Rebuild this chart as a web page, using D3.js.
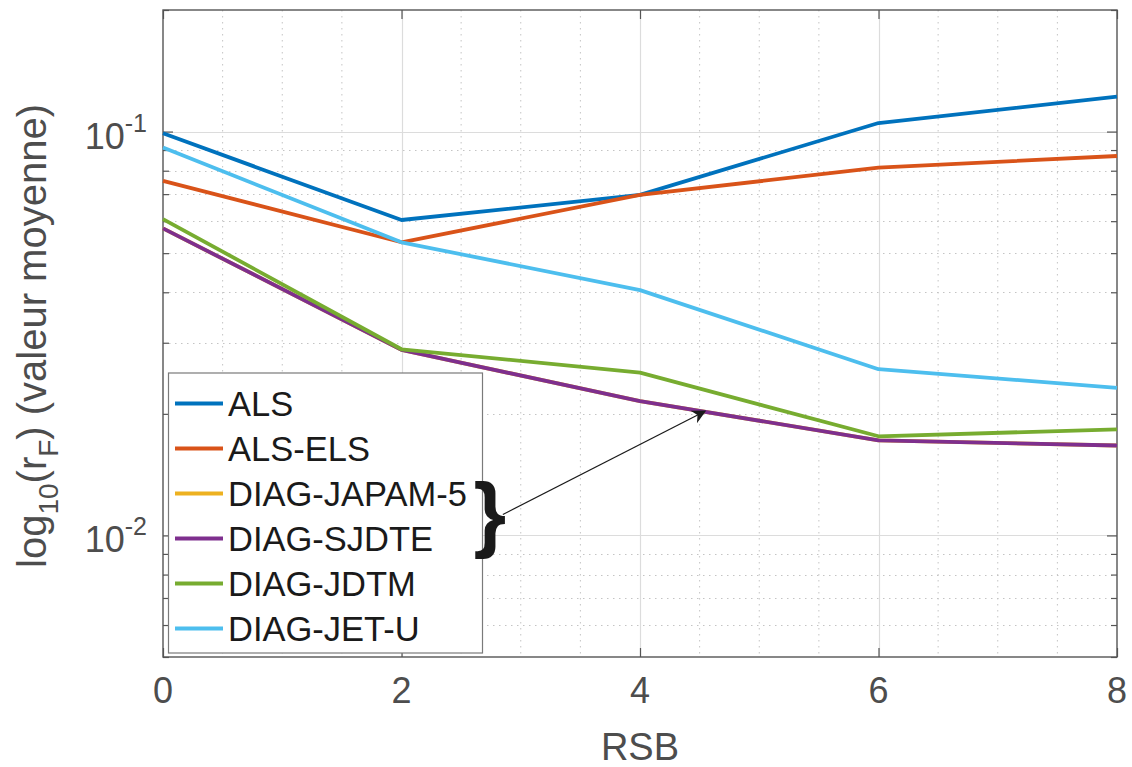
<!DOCTYPE html>
<html>
<head>
<meta charset="utf-8">
<script src="https://cdn.jsdelivr.net/npm/d3@7"></script>
<style>
  html, body { margin: 0; padding: 0; background: #fff; }
  svg { display: block; font-family: "Liberation Sans", Arial, Helvetica, sans-serif; }
</style>
</head>
<body>
<svg id="chart" width="1132" height="767"></svg>
<script>
// ---- data ----
const rsb = [0, 2, 4, 6, 8];
const seriesNames = ["ALS", "ALS-ELS", "DIAG-JAPAM-5", "DIAG-SJDTE", "DIAG-JDTM", "DIAG-JET-U"];
const seriesColors = ["#0072BD", "#D95319", "#EDB120", "#7E2F8E", "#77AC30", "#4DBEEE"];
const als      = [0.0990, 0.0604, 0.0697, 0.1050, 0.1220];
const alsEls   = [0.0755, 0.0532, 0.0697, 0.0814, 0.0870];
const japam5   = [0.0576, 0.0288, 0.0215, 0.0172, 0.0167];
const sjdte    = [0.0576, 0.0288, 0.0215, 0.0172, 0.0167];
const jdtm     = [0.0607, 0.0289, 0.0253, 0.0176, 0.0183];
const jetU     = [0.0913, 0.0532, 0.0405, 0.0258, 0.0232];
const seriesValues = [als, alsEls, japam5, sjdte, jdtm, jetU];
const xTicks = [0, 2, 4, 6, 8];
const yMajorTicks = [0.01, 0.1];
const yMajorExp = ["-2", "-1"];
const xLabel = "RSB";
// annotation (data coordinates): arrow from brace to the grouped curves
const arrowFrom = [2.85, 0.01127];
const arrowTo = [4.545, 0.0203];
const braceAt = [2.74, 0.0112];

// ---- layout ----
const svg = d3.select("#chart");
const L = 163, R = 1117, T = 10, B = 657;
const x = d3.scaleLinear().domain([0, 8]).range([L, R]);
const y = d3.scaleLog().domain([0.005, 0.2]).range([B, T]);
const axisCol = "#555555", textCol = "#4d4d4d";

// minor grid
const xMinor = d3.range(0.5, 8, 0.5).filter(v => v % 2 !== 0);
const yMinor = [];
[0.001, 0.01, 0.1].forEach(d => { for (let k = 2; k <= 9; k++) { const v = d * k; if (v > 0.005 && v < 0.2) yMinor.push(v); } });
yMinor.push(0.005, 0.2);
const g = svg.append("g");
g.selectAll(".xminor").data(xMinor).join("line")
  .attr("x1", d => x(d)).attr("x2", d => x(d)).attr("y1", T).attr("y2", B)
  .attr("stroke", "#c4c4c4").attr("stroke-width", 1).attr("stroke-dasharray", "1.5,4.5");
g.selectAll(".yminor").data(yMinor.filter(v => v > 0.005 && v < 0.2)).join("line")
  .attr("x1", L).attr("x2", R).attr("y1", d => Math.round(y(d)) + 0.5).attr("y2", d => Math.round(y(d)) + 0.5)
  .attr("stroke", "#c4c4c4").attr("stroke-width", 1).attr("stroke-dasharray", "1.5,4.5");
// major grid
g.selectAll(".xmaj").data(xTicks.slice(1, -1)).join("line")
  .attr("x1", d => Math.round(x(d)) + 0.5).attr("x2", d => Math.round(x(d)) + 0.5).attr("y1", T).attr("y2", B)
  .attr("stroke", "#dcdcdc").attr("stroke-width", 1.2);
g.selectAll(".ymaj").data(yMajorTicks).join("line")
  .attr("x1", L).attr("x2", R).attr("y1", d => Math.round(y(d)) + 0.5).attr("y2", d => Math.round(y(d)) + 0.5)
  .attr("stroke", "#dcdcdc").attr("stroke-width", 1.2);

// axes via d3 axis (ticks inside)
const yAxisL = d3.axisRight(y).tickValues(yMajorTicks).tickSize(10).tickFormat("");
const yAxisLm = d3.axisRight(y).tickValues(yMinor).tickSize(6).tickFormat("");
const yAxisR = d3.axisLeft(y).tickValues(yMajorTicks).tickSize(10).tickFormat("");
const yAxisRm = d3.axisLeft(y).tickValues(yMinor).tickSize(6).tickFormat("");
const xAxisB = d3.axisTop(x).tickValues(xTicks).tickSize(9).tickFormat("");
const xAxisT = d3.axisBottom(x).tickValues(xTicks).tickSize(9).tickFormat("");
function styleAxis(sel) { sel.select(".domain").remove(); sel.selectAll("line").attr("stroke", axisCol).attr("stroke-width", 1.2); }
svg.append("g").attr("transform", `translate(${L},0)`).call(yAxisL).call(styleAxis);
svg.append("g").attr("transform", `translate(${L},0)`).call(yAxisLm).call(styleAxis);
svg.append("g").attr("transform", `translate(${R},0)`).call(yAxisR).call(styleAxis);
svg.append("g").attr("transform", `translate(${R},0)`).call(yAxisRm).call(styleAxis);
svg.append("g").attr("transform", `translate(0,${B})`).call(xAxisB).call(styleAxis);
svg.append("g").attr("transform", `translate(0,${T})`).call(xAxisT).call(styleAxis);
// box
svg.append("rect").attr("x", L).attr("y", T).attr("width", R - L).attr("height", B - T)
  .attr("fill", "none").attr("stroke", axisCol).attr("stroke-width", 1.4);

// tick labels
svg.selectAll(".xtl").data(xTicks).join("text")
  .attr("x", d => x(d)).attr("y", 703).attr("text-anchor", "middle")
  .attr("font-size", 36).attr("fill", textCol).text(d => d);
const ytl = svg.selectAll(".ytl").data(yMajorTicks).join("text")
  .attr("x", 147).attr("y", d => y(d) + 17).attr("text-anchor", "end")
  .attr("font-size", 36).attr("fill", textCol);
ytl.append("tspan").text("10");
ytl.append("tspan").attr("dy", -17).attr("font-size", 25).text((d, i) => yMajorExp[i]);

// axis labels
svg.append("text").attr("x", x(4)).attr("y", 760).attr("text-anchor", "middle")
  .attr("font-size", 38).attr("fill", textCol).text(xLabel);
const yl = svg.append("text").attr("transform", `translate(46,336) rotate(-90)`)
  .attr("text-anchor", "middle").attr("font-size", 40).attr("fill", textCol);
yl.append("tspan").text("log");
yl.append("tspan").attr("font-size", 28).attr("dy", 12).text("10");
yl.append("tspan").attr("dy", -12).text("(r");
yl.append("tspan").attr("font-size", 28).attr("dy", 12).text("F");
yl.append("tspan").attr("dy", -12).text(") (valeur moyenne)");

// lines
const line = d3.line().x((d, i) => x(rsb[i])).y(d => y(d));
svg.append("g").selectAll("path").data(seriesValues).join("path")
  .attr("d", d => line(d)).attr("fill", "none")
  .attr("stroke", (d, i) => seriesColors[i]).attr("stroke-width", 3.8)
  .attr("stroke-linejoin", "round");

// legend
const lg = svg.append("g");
const lgX = 168, lgY = 372.5, lgW = 314, lgH = 280;
lg.append("rect").attr("x", lgX + 0.5).attr("y", lgY + 0.5).attr("width", lgW).attr("height", lgH)
  .attr("fill", "#fff").attr("stroke", "#7a7a7a").attr("stroke-width", 1.2);
const items = lg.selectAll(".li").data(seriesNames).join("g")
  .attr("transform", (d, i) => `translate(${lgX},${lgY + 31 + i * 45})`);
items.append("line").attr("x1", 7).attr("x2", 55).attr("y1", 0).attr("y2", 0)
  .attr("stroke", (d, i) => seriesColors[i]).attr("stroke-width", 3.8);
items.append("text").attr("x", 60).attr("y", 12).attr("font-size", 34.5).attr("fill", "#1a1a1a").text(d => d);

// annotation
const defs = svg.append("defs");
defs.append("marker").attr("id", "ah").attr("viewBox", "0 0 10 10").attr("refX", 9).attr("refY", 5)
  .attr("markerWidth", 14).attr("markerHeight", 14).attr("markerUnits", "userSpaceOnUse").attr("orient", "auto")
  .append("path").attr("d", "M0,0 L10,5 L0,10 L3,5 Z").attr("fill", "#1a1a1a");
svg.append("line").attr("x1", x(arrowFrom[0])).attr("y1", y(arrowFrom[1]))
  .attr("x2", x(arrowTo[0])).attr("y2", y(arrowTo[1]))
  .attr("stroke", "#1a1a1a").attr("stroke-width", 1.2).attr("marker-end", "url(#ah)");
svg.append("text").attr("x", x(braceAt[0])).attr("y", y(braceAt[1]) + 26).attr("text-anchor", "middle")
  .attr("font-size", 84).attr("font-weight", "bold").attr("fill", "#1a1a1a").text("}");
</script>
</body>
</html>
